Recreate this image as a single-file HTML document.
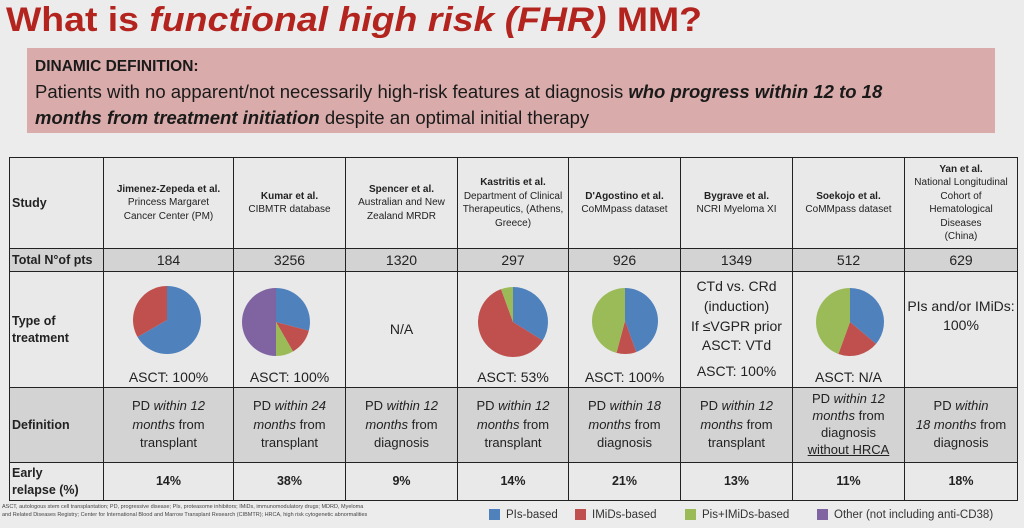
<!DOCTYPE html><html><head><style>
body{margin:0;width:1024px;height:528px;background:#ececec;position:relative;overflow:hidden;font-family:"Liberation Sans",sans-serif;}
.t{position:absolute;left:6px;top:1px;font-size:34px;line-height:38px;font-weight:bold;color:#b3241f;white-space:nowrap;transform-origin:0 0;transform:scaleX(1.1)}
.box{position:absolute;left:27px;top:48px;width:968px;height:85px;background:#d9abaa;}
.box div{position:absolute;left:8px;white-space:nowrap;color:#1a1a1a}
table{position:absolute;left:9px;top:157px;border-collapse:collapse;table-layout:fixed;}
td{border:1.5px solid #222;text-align:center;padding:0;font-size:10px;color:#222;line-height:1.35}
td.h{text-align:left;font-weight:bold;font-size:12.5px;padding-left:2px}
.g td{background:#d3d3d3}
.l td{background:#e9e9e9}
.big{font-size:14px}
.def{font-size:13px;line-height:1.45}
.er{font-weight:bold;font-size:12.5px}
.foot{position:absolute;left:2px;top:503px;font-size:5.5px;color:#444;line-height:1.5}
.leg{position:absolute;top:509px;font-size:11.5px;color:#333;white-space:nowrap}
.leg span{display:inline-block;width:11px;height:11px;vertical-align:-2px;margin-right:6px}
</style></head><body>
<div class="t">What is <i>functional high risk (FHR)</i> MM?</div>
<div class="box">
<div style="top:10px;font-size:15.5px;font-weight:bold">DINAMIC DEFINITION:</div>
<div style="top:33px;font-size:18.5px">Patients with no apparent/not necessarily high-risk features at diagnosis <b><i>who progress within 12 to 18</i></b></div>
<div style="top:59px;font-size:18.5px"><b><i>months from treatment initiation</i></b> despite an optimal initial therapy</div>
</div>
<table>
<colgroup><col style="width:94px"><col style="width:130px"><col style="width:112px"><col style="width:112px"><col style="width:111px"><col style="width:112px"><col style="width:112px"><col style="width:112px"><col style="width:113px"></colgroup>
<tr class="l" style="height:91px"><td class="h">Study</td>
<td><b>Jimenez-Zepeda et al.</b><br>Princess Margaret<br>Cancer Center (PM)</td>
<td><b>Kumar et al.</b><br>CIBMTR database</td>
<td><b>Spencer et al.</b><br>Australian and New<br>Zealand MRDR</td>
<td><b>Kastritis et al.</b><br>Department of Clinical<br>Therapeutics, (Athens,<br>Greece)</td>
<td><b>D'Agostino et al.</b><br>CoMMpass dataset</td>
<td><b>Bygrave et al.</b><br>NCRI Myeloma XI</td>
<td><b>Soekojo et al.</b><br>CoMMpass dataset</td>
<td><b>Yan et al.</b><br>National Longitudinal<br>Cohort of<br>Hematological<br>Diseases<br>(China)</td></tr>
<tr class="g" style="height:23px"><td class="h">Total N°of pts</td><td class="big">184</td><td class="big">3256</td><td class="big">1320</td><td class="big">297</td><td class="big">926</td><td class="big">1349</td><td class="big">512</td><td class="big">629</td></tr>
<tr class="l" style="height:116px"><td class="h">Type of<br>treatment</td>
<td style="vertical-align:bottom" class="big">ASCT: 100%</td>
<td style="vertical-align:bottom" class="big">ASCT: 100%</td>
<td class="big">N/A</td>
<td style="vertical-align:bottom" class="big">ASCT: 53%</td>
<td style="vertical-align:bottom" class="big">ASCT: 100%</td>
<td class="big" style="line-height:1.42">CTd vs. CRd<br>(induction)<br>If ≤VGPR prior<br>ASCT: VTd<br><div style="height:6px"></div>ASCT: 100%</td>
<td style="vertical-align:bottom" class="big">ASCT: N/A</td>
<td class="big">PIs and/or IMiDs:<br>100%<br><div style="height:28px"></div></td></tr>
<tr class="g" style="height:75px"><td class="h">Definition</td>
<td class="def">PD <i>within 12<br>months</i> from<br>transplant</td>
<td class="def">PD <i>within 24<br>months</i> from<br>transplant</td>
<td class="def">PD <i>within 12<br>months</i> from<br>diagnosis</td>
<td class="def">PD <i>within 12<br>months</i> from<br>transplant</td>
<td class="def">PD <i>within 18<br>months</i> from<br>diagnosis</td>
<td class="def">PD <i>within 12<br>months</i> from<br>transplant</td>
<td class="def" style="line-height:1.3">PD <i>within 12<br>months</i> from<br>diagnosis<br><u>without HRCA</u></td>
<td class="def">PD <i>within<br>18 months</i> from<br>diagnosis</td></tr>
<tr class="l" style="height:38px"><td class="h" style="font-weight:bold">Early<br>relapse (%)</td>
<td class="er">14%</td><td class="er">38%</td><td class="er">9%</td><td class="er">14%</td><td class="er">21%</td><td class="er">13%</td><td class="er">11%</td><td class="er">18%</td></tr>
</table>
<svg id="p" width="1024" height="528" style="position:absolute;left:0;top:0"></svg>
<div class="foot">ASCT, autologous stem cell transplantation; PD, progressive disease; PIs, proteasome inhibitors; IMiDs, immunomodulatory drugs; MDRD, Myeloma<br>and Related Diseases Registry; Center for International Blood and Marrow Transplant Research (CIBMTR); HRCA, high risk cytogenetic abnormalities</div>
<div class="leg" style="left:489px"><span style="background:#4f81bd"></span>PIs-based</div>
<div class="leg" style="left:575px"><span style="background:#c0504d"></span>IMiDs-based</div>
<div class="leg" style="left:685px"><span style="background:#9bbb59"></span>Pis+IMiDs-based</div>
<div class="leg" style="left:817px"><span style="background:#8064a2"></span>Other (not including anti-CD38)</div>
<script>
var C={b:"#4f81bd",r:"#c0504d",g:"#9bbb59",p:"#8064a2"};
var pies=[[167,320,34,[["b",240],["r",120]]],[276,322,34,[["b",105],["r",45],["g",30],["p",180]]],[513,322,35,[["b",122],["r",218],["g",20]]],[625,321,33,[["b",160],["r",35],["g",165]]],[850,322,34,[["b",130],["r",70],["g",160]]]];
var s="";
pies.forEach(function(P){var cx=P[0],cy=P[1],r=P[2],a=0;P[3].forEach(function(sl){var a1=a,a2=a+sl[1];
function pt(d){var t=(d-90)*Math.PI/180;return (cx+r*Math.cos(t)).toFixed(2)+","+(cy+r*Math.sin(t)).toFixed(2);}
s+='<path d="M'+cx+','+cy+' L'+pt(a1)+' A'+r+','+r+' 0 '+(sl[1]>180?1:0)+' 1 '+pt(a2)+' Z" fill="'+C[sl[0]]+'"/>';a=a2;});});
document.getElementById("p").innerHTML=s;
</script>
</body></html>
